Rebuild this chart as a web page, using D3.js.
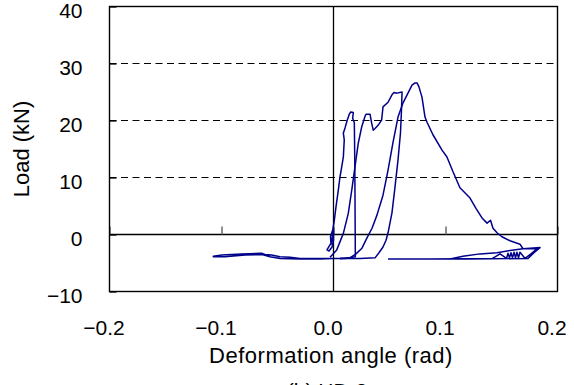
<!DOCTYPE html>
<head>
  <meta charset="utf-8">
  <style>
    body { margin: 0; background: #fff; }
    svg { display: block; font-family: "Liberation Sans", Arial, sans-serif; }
  </style>
  <script src="https://cdn.jsdelivr.net/npm/d3@7"></script>
</head>
<body>
<svg id=chart width="574" height="385"></svg>
<script>
// deformation angle (rad), load (kN), one array per loop
const cycle1 = [
  [0, 0], [-0.0004, -0.6], [-0.0022, -1.5], [-0.0049, -2.4], [-0.0058, -2.7], [-0.004, -2.9],
  [-0.0013, -2.2], [0, -1.0], [0, 1.0], [-0.0009, -0.3], [-0.0022, -1.7], [-0.0027, -0.4],
  [-0.0007, 0.8], [0.0004, 2.0], [0.0022, 4.8], [0.0043, 7.8], [0.0058, 10.1], [0.0073, 11.8],
  [0.0088, 13.6], [0.0096, 16.6], [0.0088, 17.8], [0.0103, 18.7], [0.0123, 20.1], [0.0141, 21.1],
  [0.0154, 21.5], [0.0177, 21.4], [0.0171, 20.4], [0.0186, 19.6], [0.019, 13.1], [0.0195, -3.9],
  [0.0103, -4.2], [-0.0002, -4.2], [-0.0299, -4.2], [-0.0388, -4.0], [-0.0478, -3.9],
  [-0.0552, -3.6], [-0.0612, -3.5], [-0.0641, -3.3], [-0.082, -3.4], [-0.0996, -3.6],
  [-0.1073, -3.8], [-0.1073, -3.9], [-0.0969, -3.9], [-0.079, -3.6], [-0.0638, -3.5],
  [-0.0567, -3.9], [-0.0478, -4.2], [-0.0299, -4.3], [-0.0121, -4.3], [-0.0004, -4.2]
]
const cycle2 = [
  [-0.0031, -4.0], [0.0029, -2.7], [0.0088, 0.2], [0.0132, 3.7], [0.0163, 7.8], [0.0192, 11.9],
  [0.0221, 16.0], [0.0252, 18.9], [0.0281, 20.7], [0.029, 21.1], [0.0326, 21.1], [0.0341, 19.5],
  [0.0355, 18.3], [0.0371, 18.6], [0.04, 19.2], [0.043, 20.1], [0.0442, 22.4], [0.0487, 23.2],
  [0.0522, 24.5], [0.054, 24.9], [0.0567, 24.8], [0.0612, 25.0], [0.0607, 21.8], [0.0598, 17.8],
  [0.0576, 13.1], [0.0549, 8.3], [0.0522, 3.8], [0.0487, 0.3], [0.0469, -1.0], [0.0442, -2.2],
  [0.0406, -3.2], [0.0371, -4.1], [0.0237, -4.2], [0.0058, -4.2]
]
const cycle3 = [
  [0.0058, -4.2], [0.0147, -4.1], [0.0201, -3.4], [0.0254, -2.4], [0.0299, -0.6], [0.0344, 1.1],
  [0.0388, 3.4], [0.0442, 6.9], [0.0487, 11.3], [0.0531, 16.1], [0.0576, 20.6], [0.0621, 23.1],
  [0.0665, 24.8], [0.0701, 26.2], [0.0728, 26.6], [0.0746, 26.6], [0.0763, 25.9], [0.079, 24.1],
  [0.0817, 20.6], [0.0835, 19.7], [0.0888, 17.5], [0.0969, 14.8], [0.1013, 13.6], [0.1067, 11.0],
  [0.1129, 8.2], [0.1219, 6.4], [0.1272, 4.6], [0.1326, 2.9], [0.1371, 2.0], [0.1402, 2.5],
  [0.1424, 1.1], [0.146, 0.3], [0.1504, -0.4], [0.1576, -1.1], [0.1665, -1.7], [0.1692, -2.5],
  [0.1754, -2.4], [0.1844, -2.3], [0.179, -3.2], [0.1737, -4.2], [0.1219, -4.3], [0.104, -4.3],
  [0.1156, -3.8], [0.1308, -3.4], [0.146, -3.2], [0.1576, -2.8], [0.1692, -2.5], [0.1817, -2.5],
  [0.1763, -3.4], [0.171, -4.2], [0.1665, -3.1], [0.1652, -4.1], [0.1638, -3.1], [0.1625, -4.1],
  [0.1612, -3.1], [0.1598, -4.1], [0.1585, -3.2], [0.1571, -4.1], [0.1558, -3.3], [0.1545, -4.2],
  [0.1487, -3.4], [0.1420, -4.2], [0.0862, -4.3], [0.0487, -4.3]
]
const xTicks = [-0.2, -0.1, 0, 0.1, 0.2]
const yTicks = [-10, 0, 10, 20, 30, 40]
const gridLoads = [10, 20, 30]

const svg = d3.select('#chart')
const x = d3.scaleLinear([-0.2, 0.2], [109.5, 557.5])
const y = d3.scaleLinear([-10, 40], [291.5, 6.5])

// dashed gridlines
svg.append('g')
  .selectAll('line')
  .data(gridLoads)
  .join('line')
  .attr('x1', x(-0.2)).attr('x2', x(0.2))
  .attr('y1', d => y(d)).attr('y2', d => y(d))
  .attr('stroke', '#000').attr('stroke-width', 1.2)
  .attr('stroke-dasharray', '7,4.5')

// zero lines
svg.append('line')
  .attr('x1', x(-0.2)).attr('x2', x(0.2)).attr('y1', y(0)).attr('y2', y(0))
  .attr('stroke', '#000').attr('stroke-width', 1.3)
svg.append('line')
  .attr('x1', x(0)).attr('x2', x(0)).attr('y1', y(40)).attr('y2', y(-10))
  .attr('stroke', '#000').attr('stroke-width', 1.3)

// ticks on the zero line
svg.append('g')
  .attr('transform', `translate(0,${y(0)})`)
  .call(d3.axisTop(x).tickValues(xTicks).tickSize(8).tickFormat(''))
  .call(g => g.select('.domain').remove())
  .call(g => g.selectAll('line').attr('stroke', '#555').attr('stroke-width', 1.3))

// x labels at the bottom
svg.append('g')
  .attr('transform', `translate(0,${y(-10)})`)
  .call(d3.axisBottom(x).tickValues(xTicks).tickSize(0).tickPadding(28.6).tickFormat(d3.format('.1f')))
  .call(g => g.select('.domain').remove())
  .call(g => g.selectAll('text').attr('dx', -6).attr('font-size', 21).attr('font-family', null).attr('fill', '#000'))

// y axis, ticks pointing inward
svg.append('g')
  .attr('transform', `translate(${x(-0.2)},0)`)
  .call(d3.axisLeft(y).tickValues(yTicks).tickSize(-7).tickPadding(27).tickFormat(d3.format('d')))
  .call(g => g.select('.domain').remove())
  .call(g => g.selectAll('line').attr('stroke', '#000').attr('stroke-width', 1.3))
  .call(g => g.selectAll('text').attr('dy', '0.5em').attr('font-size', 21).attr('font-family', null).attr('fill', '#000'))

// frame
svg.append('rect')
  .attr('x', x(-0.2)).attr('y', y(40))
  .attr('width', x(0.2) - x(-0.2)).attr('height', y(-10) - y(40))
  .attr('fill', 'none').attr('stroke', '#000').attr('stroke-width', 1.4)

// load-deformation curve
const line = d3.line().x(d => x(d[0])).y(d => y(d[1]))
svg.append('g')
  .selectAll('path')
  .data([cycle1, cycle2, cycle3])
  .join('path')
  .attr('d', line)
  .attr('fill', 'none')
  .attr('stroke', '#00008b')
  .attr('stroke-width', 1.5)
  .attr('stroke-linejoin', 'round')

// titles
svg.append('text')
  .attr('x', 331).attr('y', 363)
  .attr('text-anchor', 'middle').attr('font-size', 22).attr('letter-spacing', 0.5)
  .text('Deformation angle (rad)')
svg.append('text')
  .attr('transform', 'translate(29,149) rotate(-90)')
  .attr('text-anchor', 'middle').attr('font-size', 22)
  .text('Load (kN)')
svg.append('text')
  .attr('x', 327).attr('y', 398)
  .attr('text-anchor', 'middle').attr('font-size', 21)
  .text('(b)  HD-2')
</script>
</body>
